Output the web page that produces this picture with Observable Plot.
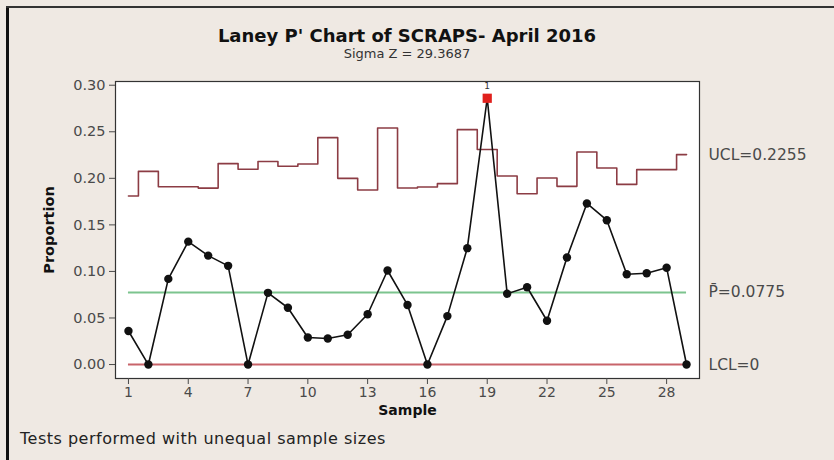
<!DOCTYPE html>
<html>
<head>
<meta charset="utf-8">
<script src="https://cdn.jsdelivr.net/npm/d3@7"></script>
<script src="https://cdn.jsdelivr.net/npm/@observablehq/plot@0.6"></script>
<style>
  html, body { margin: 0; padding: 0; background: #efe9e3; }
  #page { position: relative; width: 834px; height: 460px; background: #efe9e3; overflow: hidden; font-family: "DejaVu Sans", sans-serif; }
  #bl { position: absolute; left: 6px; top: 6px; width: 3px; height: 460px; background: #111; }
  #bt { position: absolute; left: 6px; top: 6px; width: 834px; height: 2px; background: #333; }
  #title { position: absolute; left: 0; width: 814px; top: 25px; text-align: center; font-weight: bold; font-size: 18px; line-height: 21px; color: #111; }
  #subtitle { position: absolute; left: 0; width: 814px; top: 46px; text-align: center; font-size: 13px; line-height: 15px; color: #333; }
  #chart { position: absolute; left: 0; top: 60px; }
  #footer { position: absolute; left: 20px; top: 429px; font-size: 16px; letter-spacing: 0.5px; color: #222; }
  #chart svg { background: transparent; font-family: "DejaVu Sans", sans-serif; }
  #chart g[aria-label="x-axis label"] text, #chart g[aria-label="y-axis label"] text { font-weight: bold; fill: #111; }
</style>
</head>
<body>
<div id="page">
  <div id="bl"></div>
  <div id="bt"></div>
  <div id="title">Laney P' Chart of SCRAPS- April 2016</div>
  <div id="subtitle">Sigma Z = 29.3687</div>
  <div id="chart"></div>
  <div id="footer">Tests performed with unequal sample sizes</div>
</div>
<script>
const samples = [1,2,3,4,5,6,7,8,9,10,11,12,13,14,15,16,17,18,19,20,21,22,23,24,25,26,27,28,29];
const proportion = [0.036, 0.000, 0.092, 0.132, 0.117, 0.106, 0.000, 0.077, 0.061, 0.029,
                    0.028, 0.032, 0.054, 0.101, 0.064, 0.000, 0.052, 0.125, 0.286, 0.076,
                    0.083, 0.047, 0.115, 0.173, 0.155, 0.097, 0.098, 0.104, 0.000];
const ucl = [0.181, 0.2075, 0.191, 0.191, 0.1895, 0.2158, 0.2097, 0.218, 0.213, 0.2154,
             0.2437, 0.200, 0.1875, 0.254, 0.1896, 0.1907, 0.1943, 0.2523, 0.2309, 0.2025,
             0.1835, 0.2003, 0.1914, 0.2283, 0.2111, 0.1935, 0.2093, 0.2093, 0.2255];
const pbar = 0.0775;
const lcl = 0;
const failedSamples = [19];
const xTicks = [1,4,7,10,13,16,19,22,25,28];
const yTicks = [0, 0.05, 0.10, 0.15, 0.20, 0.25, 0.30];
const limitLabels = ["UCL=0.2255", "P\u0304=0.0775", "LCL=0"];

const data = samples.map((s, i) => ({sample: s, p: proportion[i], ucl: ucl[i], failed: failedSamples.includes(s)}));
const first = samples[0], last = samples[samples.length - 1];
const refLines = [
  {x1: first, x2: last, y: pbar, color: "#7cc48e"},
  {x1: first, x2: last, y: lcl, color: "#c8646a"}
];
const labels = [
  {y: ucl[ucl.length - 1], text: limitLabels[0]},
  {y: pbar, text: limitLabels[1]},
  {y: lcl, text: limitLabels[2]}
];

const chart = Plot.plot({
  width: 834,
  height: 360,
  marginLeft: 115,
  marginRight: 135,
  marginTop: 21,
  marginBottom: 42,
  style: {fontSize: "14px", color: "#4a4a4a", background: "transparent"},
  x: {domain: [0.35, 29.65]},
  y: {domain: [-0.015, 0.304]},
  marks: [
    Plot.frame({fill: "white", stroke: "none"}),
    Plot.ruleY(refLines, {x1: "x1", x2: "x2", y: "y", stroke: "color", strokeWidth: 2}),
    Plot.line(data, {x: "sample", y: "ucl", curve: "step", stroke: "#8c3c44", strokeWidth: 1.6}),
    Plot.line(data, {x: "sample", y: "p", stroke: "#111", strokeWidth: 1.6}),
    Plot.dot(data.filter(d => !d.failed), {x: "sample", y: "p", r: 4.2, fill: "#111", stroke: "none"}),
    Plot.dot(data.filter(d => d.failed), {x: "sample", y: "p", symbol: "square", r: 5.2, fill: "#e0201c", stroke: "none"}),
    Plot.text(data.filter(d => d.failed), {x: "sample", y: "p", text: d => "1", dy: -12, fontSize: 9, fill: "#333"}),
    Plot.text(labels, {y: "y", text: "text", frameAnchor: "right", textAnchor: "start", dx: 9, fontSize: 15.5, fill: "#4a4a4a"}),
    Plot.frame({stroke: "#333", strokeWidth: 1.2}),
    Plot.axisY({ticks: yTicks, tickFormat: d3.format(".2f"), tickSize: 6, tickPadding: 4, fontSize: 14.5,
                label: "Proportion", labelAnchor: "center", labelArrow: "none", labelOffset: 72}),
    Plot.axisX({ticks: xTicks, tickSize: 6, tickPadding: 3, fontSize: 14,
                label: "Sample", labelAnchor: "center", labelArrow: "none", labelOffset: 36})
  ]
});
document.getElementById("chart").appendChild(chart);
</script>
</body>
</html>
